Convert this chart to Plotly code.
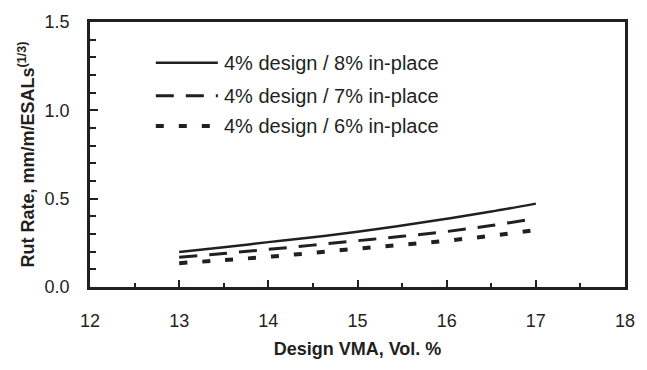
import plotly.graph_objects as go

vma = [13, 13.5, 14, 14.5, 15, 15.5, 16, 16.5, 17]
rut_8 = [0.198, 0.225, 0.254, 0.282, 0.313, 0.348, 0.386, 0.427, 0.472]
rut_7 = [0.168, 0.190, 0.213, 0.237, 0.262, 0.287, 0.314, 0.348, 0.388]
rut_6 = [0.135, 0.152, 0.171, 0.193, 0.217, 0.239, 0.262, 0.290, 0.322]
names = ["4% design / 8% in-place", "4% design / 7% in-place", "4% design / 6% in-place"]
dashes = ["solid", "18px,12px", "8px,15px"]
widths = [2.5, 3, 4]

FONT = "Liberation Sans, Arial, Helvetica, sans-serif"
INK = "#231f20"

fig = go.Figure()
for ys, nm, d, w in zip([rut_8, rut_7, rut_6], names, dashes, widths):
    fig.add_trace(go.Scatter(x=vma, y=ys, mode="lines", name=nm,
                             line=dict(color=INK, width=w, dash=d, shape="spline"),
                             showlegend=False))

# manual legend (paper coordinates)
rows = [0.846, 0.722, 0.608]
for nm, d, w, yy in zip(names, dashes, widths, rows):
    fig.add_shape(type="line", xref="paper", yref="paper", x0=0.123, x1=0.239, y0=yy, y1=yy,
                  line=dict(color=INK, width=w, dash=d))
    fig.add_annotation(xref="paper", yref="paper", x=0.246, y=yy, text=nm, showarrow=False,
                       xanchor="left", yanchor="middle", font=dict(size=20, color=INK, family=FONT))

fig.update_layout(
    width=647, height=370,
    margin=dict(l=90, r=13, t=14, b=83),
    paper_bgcolor="white", plot_bgcolor="white",
    font=dict(family=FONT, color=INK, size=18),
)
fig.update_xaxes(range=[12, 18], dtick=1, tick0=12, showgrid=False, zeroline=False,
                 showline=True, linecolor=INK, linewidth=2.5, mirror=True,
                 ticks="inside", ticklen=7, tickwidth=2, tickcolor=INK,
                 minor=dict(dtick=0.5, ticks="inside", ticklen=4, tickwidth=2, tickcolor=INK, showgrid=False),
                 ticklabelstandoff=16,
                 tickfont=dict(size=18, family=FONT, color=INK),
                 title=dict(text="<b>Design VMA, Vol. %</b>", standoff=13,
                            font=dict(size=18, family=FONT, color=INK)))
fig.update_yaxes(range=[0, 1.5], dtick=0.5, tick0=0, tickformat=".1f", showgrid=False, zeroline=False,
                 showline=True, linecolor=INK, linewidth=2.5, mirror=True,
                 ticks="inside", ticklen=8, tickwidth=2, tickcolor=INK,
                 minor=dict(dtick=0.1, ticks="inside", ticklen=6, tickwidth=2, tickcolor=INK, showgrid=False),
                 ticklabelstandoff=14,
                 tickfont=dict(size=18, family=FONT, color=INK),
                 title=dict(text="<b>Rut Rate, mm/m/ESALs<sup>(1/3)</sup></b>", standoff=6,
                            font=dict(size=18, family=FONT, color=INK)))

fig.write_html("out.html")
